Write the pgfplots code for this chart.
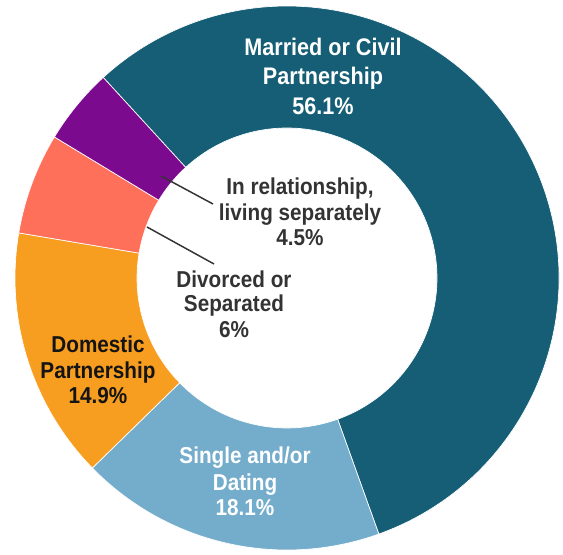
\documentclass[border=0pt]{standalone}
\usepackage{pgfplots}
\pgfplotsset{compat=1.18}
\usepackage{pgfplotstable}
\usepackage{fontspec}
\setmainfont{Liberation Sans}[FakeStretch=0.9]
\usetikzlibrary{calc}

\definecolor{cMarried}{HTML}{155E75}
\definecolor{cSingle}{HTML}{74ADCC}
\definecolor{cDomestic}{HTML}{F79D20}
\definecolor{cDivorced}{HTML}{FF705B}
\definecolor{cRelation}{HTML}{7B0A8E}
\definecolor{cDark}{HTML}{333333}
\definecolor{cBlack}{HTML}{141414}

% shares in percent, clockwise from the top left
\pgfplotstableread{
share col
56.1  cMarried
18.1  cSingle
14.9  cDomestic
6.0   cDivorced
4.5   cRelation
}\shares

\newcommand\lab[5]{\node[anchor=base, inner sep=0pt, text=#4,
  font=\bfseries\fontsize{#5}{#5}\selectfont] at (axis cs:#1,#2) {#3};}

\begin{document}
\begin{tikzpicture}
% angles of the slices
\def\total{0}
\pgfplotsforeachungrouped \i in {0,...,4}{%
  \pgfplotstablegetelem{\i}{share}\of\shares
  \pgfmathsetmacro\total{\total+\pgfplotsretval}%
}
\def\cur{132.5}
\pgfplotsforeachungrouped \i in {0,...,4}{%
  \pgfplotstablegetelem{\i}{share}\of\shares
  \pgfmathsetmacro\nxt{\cur-\pgfplotsretval/\total*360}%
  \expandafter\xdef\csname aS\i\endcsname{\cur}%
  \expandafter\xdef\csname aE\i\endcsname{\nxt}%
  \pgfplotstablegetelem{\i}{col}\of\shares
  \colorlet{slice\i}{\pgfplotsretval}%
  \let\cur\nxt
}
\begin{axis}[
  x=0.75pt, y=0.75pt,
  xmin=0, xmax=563, ymin=0, ymax=554,
  hide axis, clip=false,
]
\fill[white] (axis cs:0,0) rectangle (axis cs:563,554);
\coordinate (ll) at (axis cs:0,0);
\coordinate (ur) at (axis cs:563,554);
\pgfplotsinvokeforeach{0,...,4}{%
  \fill[fill=slice#1, draw=white, line width=0.5pt]
    ($(axis cs:287,276)+(\csname aS#1\endcsname:112.5pt)$)
    arc[start angle=\csname aS#1\endcsname, end angle=\csname aE#1\endcsname, radius=112.5pt]
    -- ($(axis cs:287,276)+(\csname aE#1\endcsname:204pt)$)
    arc[start angle=\csname aE#1\endcsname, end angle=\csname aS#1\endcsname, radius=204pt]
    -- cycle;
}
% leader lines
\draw[cDark, line width=1.1pt] (axis cs:161,378) -- (axis cs:213,350);
\draw[cDark, line width=1.1pt] (axis cs:147,327) -- (axis cs:214,290);
% labels
\lab{323}{498}{Married or Civil}{white}{18}
\lab{323}{469}{Partnership}{white}{18}
\lab{323}{439}{56.1\%}{white}{18}
\lab{300}{359}{In relationship,}{cDark}{17.25}
\lab{300}{334}{living separately}{cDark}{17.25}
\lab{300}{309}{4.5\%}{cDark}{17.25}
\lab{234}{267}{Divorced or}{cDark}{17.25}
\lab{234}{243}{Separated}{cDark}{17.25}
\lab{234}{217}{6\%}{cDark}{17.25}
\lab{98}{202}{Domestic}{cBlack}{17.25}
\lab{98}{176}{Partnership}{cBlack}{17.25}
\lab{98}{151}{14.9\%}{cBlack}{17.25}
\lab{245}{91}{Single and/or}{white}{17.25}
\lab{245}{64}{Dating}{white}{17.25}
\lab{245}{39}{18.1\%}{white}{17.25}
\end{axis}
\pgfresetboundingbox
\path[use as bounding box] (ll) rectangle (ur);
\end{tikzpicture}
\end{document}
